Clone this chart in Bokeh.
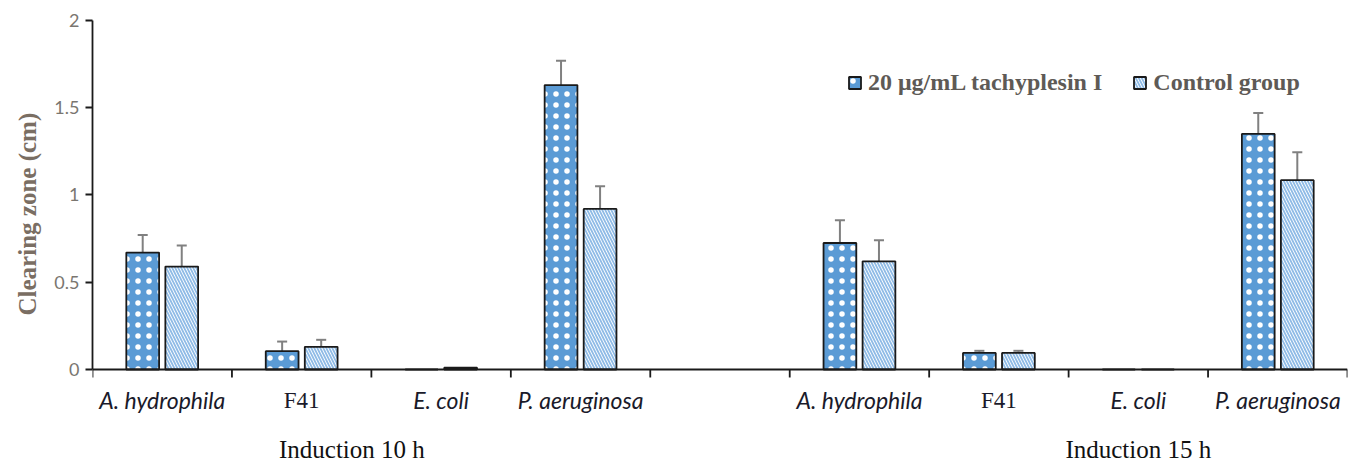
from bokeh.plotting import figure
from bokeh.models import Range1d, FixedTicker, Label, Legend, LegendItem, ColumnDataSource, Title
from bokeh.embed import file_html
from bokeh.resources import INLINE

# ---- data ----
groups = ["Induction 10 h", "Induction 15 h"]
strains = ["A. hydrophila", "F41", "E. coli", "P. aeruginosa"]
tach_10 = [0.67, 0.105, 0.0, 1.63]
tach_10_err = [0.10, 0.055, 0.0, 0.14]
ctrl_10 = [0.59, 0.13, 0.01, 0.92]
ctrl_10_err = [0.12, 0.04, 0.0, 0.13]
tach_15 = [0.725, 0.095, 0.0, 1.35]
tach_15_err = [0.13, 0.012, 0.0, 0.12]
ctrl_15 = [0.62, 0.095, 0.0, 1.085]
ctrl_15_err = [0.12, 0.012, 0.0, 0.16]
series_names = ["20 μg/mL tachyplesin I", "Control group"]
y_ticks = [0, 0.5, 1, 1.5, 2]
y_title = "Clearing zone (cm)"

# ---- layout helpers ----
slots_per_group = len(strains) + 1
n_slots = slots_per_group * len(groups) - 1
def centers(g):
    return [g * slots_per_group + i + 0.5 for i in range(len(strains))]

off = 0.14
bw = 0.235
y_bottom = -0.556   # room below the axis for category / group labels

p = figure(width=1355, height=466, output_backend="svg", toolbar_location=None,
           x_range=Range1d(0, n_slots), y_range=Range1d(y_bottom, 2),
           x_axis_location=None,
           min_border_left=92, min_border_right=8, min_border_top=20, min_border_bottom=0)
p.outline_line_color = None
p.xgrid.visible = False
p.ygrid.visible = False

xs = centers(0) + centers(1)
tops_t = tach_10 + tach_15
tops_c = ctrl_10 + ctrl_15
errs_t = tach_10_err + tach_15_err
errs_c = ctrl_10_err + ctrl_15_err

src_t = ColumnDataSource(dict(x=[x - off for x in xs], top=tops_t))
src_c = ColumnDataSource(dict(x=[x + off for x in xs], top=tops_c))

# error bars
cap = 0.036
def add_err(tops, errs, shift):
    ex = [x + shift for x, e in zip(xs, errs) if e > 0]
    y0 = [t for t, e in zip(tops, errs) if e > 0]
    y1 = [t + e for t, e in zip(tops, errs) if e > 0]
    p.segment(x0=ex, y0=y0, x1=ex, y1=y1, line_color="#808080", line_width=2)
    p.segment(x0=[x - cap for x in ex], y0=y1, x1=[x + cap for x in ex], y1=y1,
              line_color="#808080", line_width=2)
add_err(tops_t, errs_t, -off)
add_err(tops_c, errs_c, off)

r_t = p.vbar(x="x", top="top", bottom=0, width=bw, source=src_t,
             fill_color="#5b9bd5", line_color="#1a1a1a", line_width=1.8,
             hatch_pattern="dot", hatch_color="white", hatch_scale=11, hatch_weight=1.6)
r_c = p.vbar(x="x", top="top", bottom=0, width=bw, source=src_c,
             fill_color="white", line_color="#1a1a1a", line_width=1.8,
             hatch_pattern="left_diagonal_line", hatch_color="#8fbbe6", hatch_scale=6, hatch_weight=1.8)

# x axis (line + boundary ticks) drawn in data space at y = 0
tick_len = 8 / 174.5
bounds = list(range(0, n_slots + 1))
p.segment(x0=[0], y0=[0], x1=[n_slots], y1=[0], line_color="#1a1a1a", line_width=1.8)
p.segment(x0=bounds, y0=[0] * len(bounds), x1=bounds, y1=[-tick_len] * len(bounds),
          line_color="#1a1a1a", line_width=1.8)

# y axis
p.yaxis.ticker = FixedTicker(ticks=y_ticks)
p.yaxis.bounds = (y_ticks[0], y_ticks[-1])
p.yaxis.major_label_overrides = {t: ("%g" % t) for t in y_ticks}
p.yaxis.major_tick_out = 7
p.yaxis.major_tick_in = 0
p.yaxis.minor_tick_line_color = None
p.yaxis.axis_line_color = "#1a1a1a"
p.yaxis.axis_line_width = 1.8
p.yaxis.major_tick_line_color = "#1a1a1a"
p.yaxis.major_tick_line_width = 1.8
p.yaxis.major_label_text_font = "Lato"
p.yaxis.major_label_text_font_size = "18px"
p.yaxis.major_label_text_color = "#7a7670"
p.yaxis.major_label_standoff = 6

# y axis title as a left-side title, aligned to the 0..2 span
p.add_layout(Title(text=y_title, align="left", offset=151, standoff=22,
                   text_font="Liberation Serif", text_font_style="bold",
                   text_font_size="25px", text_color="#7a6e63"), "left")

# category labels
for g in range(len(groups)):
    for x, s in zip(centers(g), strains):
        italic = s != "F41"
        p.add_layout(Label(x=x, y=-0.177, text=s, text_align="center", text_baseline="alphabetic",
                           text_font="Lato" if italic else "Liberation Serif",
                           text_font_style="italic" if italic else "normal",
                           text_font_size="23px",
                           text_color="#1a1a2a"))

group_x = [1.86, 7.5]
for gx, gname in zip(group_x, groups):
    p.add_layout(Label(x=gx, y=-0.457, text=gname, text_align="center", text_baseline="alphabetic",
                       text_font="Liberation Serif", text_font_size="25px", text_color="#111111"))

legend = Legend(items=[LegendItem(label=series_names[0], renderers=[r_t]),
                       LegendItem(label=series_names[1], renderers=[r_c])],
                location=(755, 370), orientation="horizontal",
                label_text_font="Liberation Serif", label_text_font_style="bold",
                label_text_font_size="24px", label_text_color="#5e5a56",
                glyph_width=15, glyph_height=15, label_standoff=6, spacing=30,
                padding=0, margin=0, border_line_color=None, background_fill_alpha=0)
p.add_layout(legend)

open("out.html", "w").write(file_html(p, INLINE))
